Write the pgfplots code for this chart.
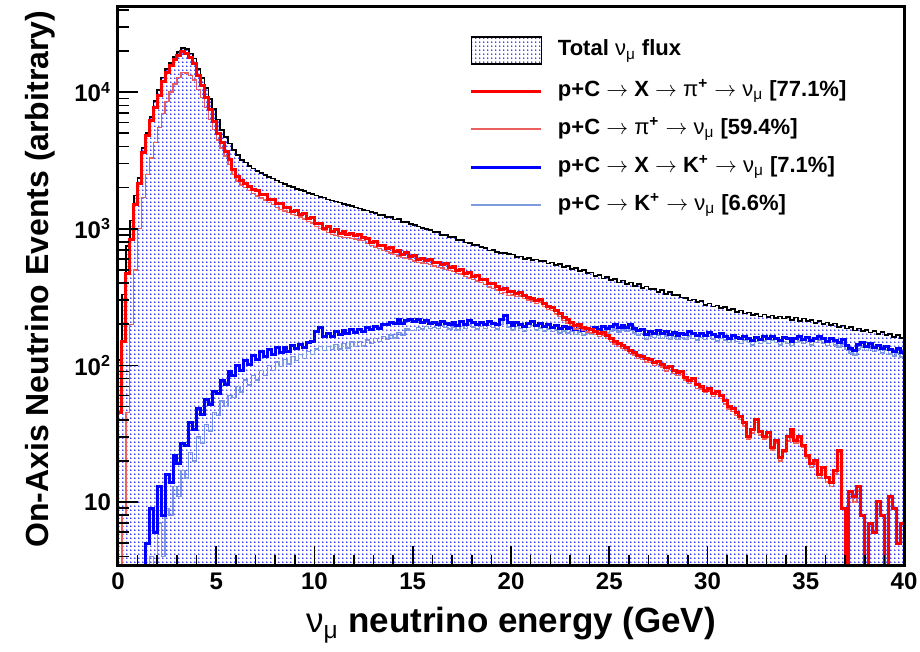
\documentclass[border=0pt]{standalone}
\usepackage{fontspec}
\setmainfont{Liberation Sans}
\usepackage{pgfplots}
\pgfplotsset{compat=1.18}
\usepackage{pgfplotstable}
\usetikzlibrary{patterns}
\pgfdeclarepatternformonly{rootdots}{\pgfqpoint{0pt}{0pt}}{\pgfqpoint{2.1pt}{2.1pt}}{\pgfqpoint{2.1pt}{2.1pt}}{%
  \pgfpathcircle{\pgfqpoint{1.05pt}{1.05pt}}{0.45pt}%
  \pgfusepath{fill}}
\definecolor{rootred}{RGB}{255,0,0}
\definecolor{pinkline}{RGB}{236,95,95}
\definecolor{rootblue}{RGB}{0,0,255}
\definecolor{lightblueline}{RGB}{125,155,222}
\newcommand{\ar}{{\mdseries$\rightarrow$}}
\newcommand{\numu}{{\mdseries ν\textsubscript{μ}}}

\pgfplotstableread{
E tot red pink blue lb
0.0 110 45 2 1 1
0.2 330 150 8 1 1
0.4 750 470 45 1 1
0.6 1150 830 200 1 1
0.8 1750 1500 500 1 1
1.0 2350 2150 1000 1 1
1.2 3900 3600 1700 1 1
1.4 5000 4800 2500 5 1
1.6 6600 6200 3300 9 4
1.8 8600 7700 4300 6 3
2.0 10400 9500 5500 13 7
2.2 12800 12000 7000 8 4
2.4 14700 14000 8500 16 9
2.6 16400 15700 10000 14 8
2.8 18000 17300 11500 22 13
3.0 19600 18500 12800 19 11
3.2 21000 19700 13900 27 17
3.4 20600 19200 13800 26 15
3.6 19200 17900 13300 38 23
3.8 17600 16300 12300 34 20
4.0 14800 13200 10500 48 30
4.2 12700 11200 9100 44 27
4.4 10700 9200 7700 56 37
4.6 8900 7400 6300 52 33
4.8 7500 6100 5300 64 45
5.0 6300 5000 4450 62 43
5.2 5300 4300 3900 78 55
5.4 4700 3700 3400 72 50
5.6 4200 3200 2950 90 60
5.8 3750 2700 2500 84 58
6.0 3450 2400 2230 100 70
6.2 3200 2250 2090 92 64
6.4 3050 2150 2000 108 78
6.6 2880 2050 1900 102 72
6.8 2760 1950 1810 118 84
7.0 2650 1900 1740 110 78
7.2 2560 1780 1680 126 92
7.4 2480 1770 1620 116 84
7.6 2400 1650 1560 130 100
7.8 2330 1650 1510 120 92
8.0 2250 1520 1430 134 106
8.2 2180 1520 1390 124 98
8.4 2120 1420 1350 136 110
8.6 2060 1440 1310 126 102
8.8 2010 1340 1270 140 116
9.0 1960 1370 1250 132 108
9.2 1920 1280 1220 142 120
9.4 1880 1300 1180 134 112
9.6 1830 1190 1130 146 126
9.8 1790 1200 1100 150 120
10.0 1750 1090 1040 176 132
10.2 1710 1100 1000 190 138
10.4 1690 1010 970 162 128
10.6 1640 1040 940 172 138
10.8 1610 960 910 164 130
11.0 1580 980 890 176 142
11.2 1555 930 880 168 132
11.4 1510 950 865 180 145
11.6 1490 905 860 170 134
11.8 1470 930 845 182 148
12.0 1430 885 840 174 138
12.2 1410 910 830 184 150
12.4 1370 860 820 176 139
12.6 1360 855 780 188 153
12.8 1320 795 755 182 145
13.0 1310 805 735 194 157
13.2 1265 755 715 186 149
13.4 1262 760 690 198 163
13.6 1218 715 680 198 154
13.8 1212 730 665 207 167
14.0 1168 685 650 204 159
14.2 1172 695 630 217 174
14.4 1125 645 615 203 166
14.6 1118 665 605 214 184
14.8 1082 625 595 216 180
15.0 1070 640 580 210 180
15.2 1040 600 565 215 190
15.4 1018 610 560 205 185
15.6 992 585 555 212 192
15.8 978 595 545 202 186
16.0 944 565 535 206 190
16.2 946 570 520 200 186
16.4 902 545 515 210 195
16.6 898 555 505 204 190
16.8 872 520 495 198 184
17.0 866 530 485 205 191
17.2 824 495 470 196 182
17.4 828 505 465 208 193
17.6 792 470 445 200 186
17.8 790 478 435 212 197
18.0 762 448 425 205 191
18.2 756 452 415 198 184
18.4 732 428 405 206 192
18.6 722 425 390 200 186
18.8 694 398 375 210 195
19.0 696 395 365 204 190
19.2 672 375 355 198 184
19.4 666 362 335 215 200
19.6 664 368 340 232 216
19.8 654 348 325 205 191
20.0 648 345 328 196 182
20.2 622 335 318 206 192
20.4 626 340 323 200 186
20.6 600 325 309 192 179
20.8 610 315 300 204 190
21.0 590 310 295 210 195
21.2 596 300 285 196 182
21.4 582 305 290 202 188
21.6 578 285 270 192 179
21.8 556 270 257 198 184
22.0 566 265 252 190 177
22.2 540 250 238 196 182
22.4 552 240 228 186 173
22.6 522 225 214 192 179
22.8 532 215 204 185 172
23.0 508 205 195 190 177
23.2 514 195 185 182 169
23.4 492 200 190 188 175
23.6 496 190 181 180 167
23.8 472 185 176 186 173
24.0 478 182 173 182 169
24.2 450 178 169 190 177
24.4 458 172 163 184 171
24.6 432 175 166 194 180
24.8 444 165 157 186 173
25.0 420 158 150 192 179
25.2 430 150 143 198 184
25.4 404 145 138 188 175
25.6 418 140 133 196 182
25.8 392 135 128 190 177
26.0 404 128 122 198 184
26.2 380 125 119 186 173
26.4 392 118 112 180 167
26.6 368 116 110 184 171
26.8 378 112 106 168 156
27.0 362 110 105 176 164
27.2 364 105 100 172 160
27.4 344 106 101 180 167
27.6 356 102 97 170 158
27.8 334 96 91 176 164
28.0 344 98 93 168 156
28.2 326 92 87 175 163
28.4 328 88 84 166 154
28.6 314 90 86 172 160
28.8 312 82 78 168 156
29.0 298 78 74 176 164
29.2 304 80 76 170 158
29.4 290 72 68 165 153
29.6 296 70 67 172 160
29.8 278 66 63 166 154
30.0 284 68 65 174 162
30.2 270 62 59 168 156
30.4 274 64 61 162 151
30.6 262 60 57 170 158
30.8 268 55 52 164 153
31.0 254 50 48 158 147
31.2 258 48 46 166 154
31.4 246 45 43 160 149
31.6 252 42 40 156 145
31.8 240 38 36 164 153
32.0 244 30 29 158 147
32.2 234 34 32 152 141
32.4 238 40 38 160 149
32.6 228 33 31 155 144
32.8 236 30 29 162 151
33.0 226 32 30 156 145
33.2 232 25 24 164 153
33.4 222 28 27 158 147
33.6 228 21 20 152 141
33.8 220 24 23 160 149
34.0 226 30 28 156 145
34.2 214 34 32 150 140
34.4 224 28 27 158 147
34.6 212 30 28 162 151
34.8 220 26 25 155 144
35.0 210 22 21 160 149
35.2 216 19 18 152 141
35.4 204 20 19 158 147
35.6 210 16 15 164 153
35.8 200 18 17 156 145
36.0 206 15 14 150 140
36.2 198 14 13 158 147
36.4 202 17 16 152 141
36.6 192 24 23 146 136
36.8 196 9 9 154 143
37.0 186 1 1 140 130
37.2 190 12 11 132 123
37.4 180 11 10 128 119
37.6 186 13 12 142 132
37.8 178 8 8 146 136
38.0 182 1 1 138 128
38.2 174 7 7 144 134
38.4 178 6 6 136 126
38.6 170 10 9 140 130
38.8 175 8 8 132 123
39.0 166 1 1 138 128
39.2 170 11 10 130 121
39.4 162 9 9 126 117
39.6 166 5 5 132 123
39.8 158 7 7 124 115
40.0 158 7 7 124 115
}\flux

\begin{document}
\begin{tikzpicture}
\begin{axis}[
  at={(0pt,0pt)}, anchor=south west,
  width=393pt, height=279.5pt, scale only axis,
  xmin=0, xmax=40, ymin=3.4, ymax=42000, ymode=log,
  axis on top,
  axis line style={line width=1.5pt},
  tick align=inside, xtick pos=bottom, ytick pos=left,
  major tick length=10pt, minor tick length=5.5pt,
  tick style={black, line width=0.8pt},
  xtick={0,5,10,15,20,25,30,35,40},
  xticklabels={0,5,10,15,20,25,30,35,40},
  minor xtick={1,2,3,4,6,7,8,9,11,12,13,14,16,17,18,19,21,22,23,24,26,27,28,29,31,32,33,34,36,37,38,39},
  ytick={10,100,1000,10000},
  yticklabels={10,10\textsuperscript{2},10\textsuperscript{3},10\textsuperscript{4}},
  minor ytick={4,5,6,7,8,9,20,30,40,50,60,70,80,90,200,300,400,500,600,700,800,900,2000,3000,4000,5000,6000,7000,8000,9000,20000,30000,40000},
  tick label style={font=\bfseries\fontsize{12}{14}\selectfont},
  xlabel={\numu{} neutrino energy (GeV)},
  every axis x label/.style={at={(axis description cs:0.5,0)}, anchor=base, yshift=-33.5pt, font=\bfseries\fontsize{17.5}{20}\selectfont},
  ylabel={On-Axis Neutrino Events (arbitrary)},
  every axis y label/.style={at={(axis description cs:-0.0992,0.513)}, rotate=90, anchor=center, font=\bfseries\fontsize{16}{19}\selectfont},
  legend image code/.code={\draw[#1] (0pt,0pt) -- (35pt,0pt);},
  legend cell align=left,
  legend style={at={(0.4478,0.948)}, anchor=north west, draw=none, fill=none,
    inner sep=0pt, outer sep=0pt, row sep=7.5pt, column sep=7.5pt,
    font=\bfseries\fontsize{11}{13}\selectfont,
    nodes={inner sep=0pt, text height=8.5pt, text depth=3pt}},
]
\addplot[draw=none, pattern=rootdots, pattern color=rootblue, const plot, forget plot] table[x=E,y=tot]{\flux} \closedcycle;
\addplot[black, line width=0.85pt, const plot, forget plot] table[x=E,y=tot]{\flux};
\addplot[lightblueline, line width=0.7pt, const plot, forget plot] table[x=E,y=lb]{\flux};
\addplot[rootblue, line width=1.5pt, const plot, forget plot] table[x=E,y=blue]{\flux};
\addplot[pinkline, line width=0.7pt, const plot, forget plot] table[x=E,y=pink]{\flux};
\addplot[rootred, line width=1.5pt, const plot, forget plot] table[x=E,y=red]{\flux};

\addlegendimage{legend image code/.code={\draw[pattern=rootdots, pattern color=rootblue, draw=black, line width=0.8pt] (0pt,-6.75pt) rectangle (35pt,6.75pt);}}
\addlegendentry{Total \numu{} flux}
\addlegendimage{rootred, line width=1.5pt}
\addlegendentry{p+C \ar{} X \ar{} {\mdseries π}\textsuperscript{+} \ar{} \numu{} [77.1\%]}
\addlegendimage{pinkline, line width=0.8pt}
\addlegendentry{p+C \ar{} {\mdseries π}\textsuperscript{+} \ar{} \numu{} [59.4\%]}
\addlegendimage{rootblue, line width=1.5pt}
\addlegendentry{p+C \ar{} X \ar{} K\textsuperscript{+} \ar{} \numu{} [7.1\%]}
\addlegendimage{lightblueline, line width=0.8pt}
\addlegendentry{p+C \ar{} K\textsuperscript{+} \ar{} \numu{} [6.6\%]}
\end{axis}
\pgfresetboundingbox
\path[use as bounding box] (-59pt,-43pt) rectangle (401pt,283pt);
\end{tikzpicture}
\end{document}
